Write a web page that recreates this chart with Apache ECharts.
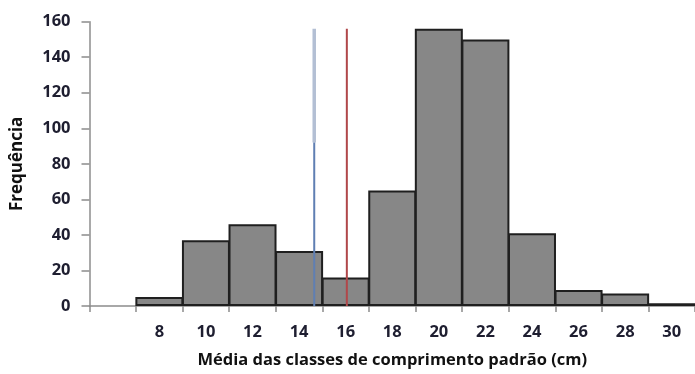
<!DOCTYPE html>
<html>
<head>
<meta charset="utf-8">
<script src="https://cdn.jsdelivr.net/npm/echarts@6/dist/echarts.min.js"></script>
<style>
html,body{margin:0;padding:0;background:#fff;}
#c{width:695px;height:374px;}
</style>
</head>
<body>
<div id="c"></div>
<script>
// Data
const categories = ['', '8', '10', '12', '14', '16', '18', '20', '22', '24', '26', '28', '30'];
const frequencies = [null, 5, 37, 46, 31, 16, 65, 156, 150, 41, 9, 7, 1.5];
const yTicks = [0, 20, 40, 60, 80, 100, 120, 140, 160];
const blueLineX = 14.65;   // blue vertical line position (cm)
const redLineX = 16.05;    // red vertical line position (cm)
const lineTop = 156;       // height of the vertical lines
const blueJoin = 92;       // where blue line changes from thick/light to thin/dark

const chart = echarts.init(document.getElementById('c'), null, {renderer: 'canvas'});
const font = "'Open Sans', sans-serif";

chart.setOption({
  animation: false,
  backgroundColor: '#fff',
  grid: {left: 89.5, top: 21.7, width: 612.2, height: 286.8, containLabel: false},
  xAxis: [
    {
      type: 'category',
      data: categories,
      boundaryGap: true,
      axisLine: {lineStyle: {color: '#8c8c8c', width: 1.5}},
      axisTick: {show: true, length: 6, lineStyle: {color: '#8c8c8c', width: 1.5}},
      axisLabel: {color: '#1e1e30', fontFamily: font, fontWeight: 'bold', fontSize: 16.5, margin: 18},
      splitLine: {show: false},
      name: 'Média das classes de comprimento padrão (cm)',
      nameLocation: 'middle',
      nameGap: 46,
      nameTextStyle: {color: '#111', fontFamily: font, fontWeight: 'bold', fontSize: 16.5}
    },
    {
      type: 'value',
      min: 5, max: 31,
      show: false
    }
  ],
  yAxis: {
    type: 'value',
    min: 0, max: 160, interval: 20,
    axisLine: {show: true, lineStyle: {color: '#8c8c8c', width: 1.5}},
    axisTick: {show: true, length: 8, lineStyle: {color: '#8c8c8c', width: 1.5}},
    axisLabel: {color: '#1e1e30', fontFamily: font, fontWeight: 'bold', fontSize: 16.5, margin: 19,
      formatter: v => yTicks.includes(v) ? String(v) : ''},
    splitLine: {show: false},
    name: 'Frequência',
    nameLocation: 'middle',
    nameGap: 64,
    nameTextStyle: {color: '#111', fontFamily: font, fontWeight: 'bold', fontSize: 17}
  },
  series: [
    {
      type: 'bar',
      data: frequencies,
      barWidth: 48,
      itemStyle: {color: '#878787', borderColor: '#1f1f1f', borderWidth: 2},
      z: 2
    },
    {
      type: 'line',
      xAxisIndex: 1,
      data: [[blueLineX, blueJoin], [blueLineX, lineTop]],
      symbol: 'none',
      lineStyle: {color: '#b3bfd4', width: 3.5},
      z: 5
    },
    {
      type: 'line',
      xAxisIndex: 1,
      data: [[blueLineX, 0], [blueLineX, blueJoin]],
      symbol: 'none',
      lineStyle: {color: '#5f7fb3', width: 2},
      z: 5
    },
    {
      type: 'line',
      xAxisIndex: 1,
      data: [[redLineX, 0], [redLineX, lineTop]],
      symbol: 'none',
      lineStyle: {color: '#b0474a', width: 2},
      z: 5
    }
  ]
});
</script>
</body>
</html>
